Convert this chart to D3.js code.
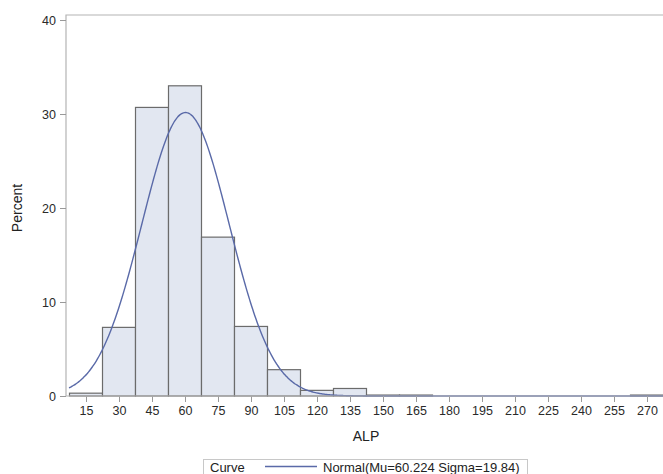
<!DOCTYPE html>
<html>
<head>
<meta charset="utf-8">
<script src="https://cdn.jsdelivr.net/npm/d3@7"></script>
<style>
  body { margin: 0; background: #fff; }
  svg { display: block; font-family: "Liberation Sans", Arial, sans-serif; }
</style>
</head>
<body>
<div id="chart"></div>
<script>
(function() {
  // bin midpoints (ALP) and percent per bin
  var binMids = [15, 30, 45, 60, 75, 90, 105, 120, 135, 150, 165, 180, 195, 210, 225, 240, 255, 270];
  var percents = [0.3, 7.3, 30.7, 33.0, 16.9, 7.4, 2.8, 0.6, 0.8, 0.1, 0.1, 0, 0, 0, 0, 0, 0, 0.1];
  var yTicks = [0, 10, 20, 30, 40];
  var binWidth = 15;
  var mu = 60.224;
  var sigma = 19.84;

  var width = 663, height = 474;

  var svg = d3.select('#chart')
              .append('svg')
              .attr('width', width)
              .attr('height', height);

  var x = d3.scaleLinear()
            .domain([15, 270])
            .range([86, 647]);

  var y = d3.scaleLinear()
            .domain([0, 40])
            .range([396, 20]);

  var left = 66, top = 15, right = width, bottom = 396;

  // bars
  var bins = binMids.map(function(m, i) { return { mid: m, pct: percents[i] }; })
                    .filter(function(d) { return d.pct > 0; });

  svg.selectAll('rect.bar')
    .data(bins)
    .enter()
    .append('rect')
    .attr('class', 'bar')
    .attr('x', function(d) { return x(d.mid - binWidth / 2); })
    .attr('y', function(d) { return y(d.pct); })
    .attr('width', function(d) { return x(d.mid + binWidth / 2) - x(d.mid - binWidth / 2); })
    .attr('height', function(d) { return y(0) - y(d.pct); })
    .attr('fill', '#e2e7f1')
    .attr('stroke', '#6b6b6b')
    .attr('stroke-width', 1.2);

  // fitted normal curve, scaled to percent per bin
  var xMin = x.invert(69), xMax = x.invert(right);
  var curvePts = d3.range(xMin, xMax, 0.5).concat([xMax]).map(function(v) {
    var z = (v - mu) / sigma;
    return [v, 100 * binWidth / (sigma * Math.sqrt(2 * Math.PI)) * Math.exp(-0.5 * z * z)];
  });

  var line = d3.line()
               .x(function(d) { return x(d[0]); })
               .y(function(d) { return y(d[1]); })
               .curve(d3.curveBasis);

  svg.append('path')
    .datum(curvePts)
    .attr('d', line)
    .attr('fill', 'none')
    .attr('stroke', '#5a6aa8')
    .attr('stroke-width', 1.4);

  // frame (left + top)
  svg.append('path')
    .attr('d', 'M' + right + ',' + top + 'H' + left + 'V' + bottom)
    .attr('fill', 'none')
    .attr('stroke', '#b4b4b4')
    .attr('stroke-width', 1.2);

  // axes
  var xAxis = d3.axisBottom(x)
                .tickValues(binMids)
                .tickSize(6)
                .tickPadding(4);

  var gx = svg.append('g')
    .attr('transform', 'translate(0,' + bottom + ')')
    .call(xAxis);
  gx.select('.domain').remove();
  gx.append('line')
    .attr('x1', left).attr('x2', right)
    .attr('stroke', '#b4b4b4').attr('stroke-width', 1.2);

  var yAxis = d3.axisLeft(y)
                .tickValues(yTicks)
                .tickSize(6)
                .tickPadding(4);

  var gy = svg.append('g')
    .attr('transform', 'translate(' + left + ',0)')
    .call(yAxis);
  gy.select('.domain').remove();

  svg.selectAll('.tick line').attr('stroke', '#999');
  svg.selectAll('.tick text')
    .attr('fill', '#2a2a2a')
    .style('font-size', '12.5px')
    .style('font-family', '"Liberation Sans", Arial, sans-serif');

  // axis labels
  svg.append('text')
    .attr('x', 366)
    .attr('y', 441)
    .attr('text-anchor', 'middle')
    .attr('fill', '#222')
    .style('font-size', '14px')
    .text('ALP');

  svg.append('text')
    .attr('transform', 'translate(22,208) rotate(-90)')
    .attr('text-anchor', 'middle')
    .attr('fill', '#222')
    .style('font-size', '14px')
    .text('Percent');

  // legend
  var lg = svg.append('g');
  lg.append('rect')
    .attr('x', 203.5).attr('y', 459.5)
    .attr('width', 324).attr('height', 22)
    .attr('fill', '#fff')
    .attr('stroke', '#c8c8c8');
  lg.append('text')
    .attr('x', 210).attr('y', 471.5)
    .attr('fill', '#222')
    .style('font-size', '13px')
    .text('Curve');
  lg.append('line')
    .attr('x1', 265).attr('x2', 317)
    .attr('y1', 466.5).attr('y2', 466.5)
    .attr('stroke', '#5a6aa8')
    .attr('stroke-width', 1.4);
  lg.append('text')
    .attr('x', 323).attr('y', 471.5)
    .attr('fill', '#222')
    .style('font-size', '13px')
    .text('Normal(Mu=' + mu + ' Sigma=' + sigma + ')');
}());
</script>
</body>
</html>
